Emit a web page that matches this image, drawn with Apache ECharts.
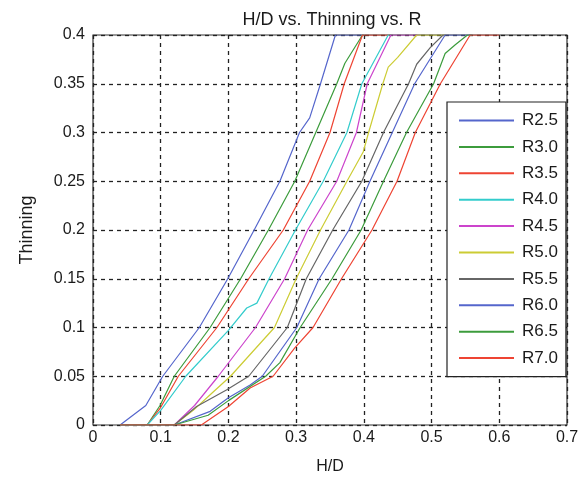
<!DOCTYPE html>
<html>
<head>
<meta charset="utf-8">
<script src="https://cdn.jsdelivr.net/npm/echarts@6/dist/echarts.min.js"></script>
<style>html,body{margin:0;padding:0;background:#fff;}#c{width:585px;height:477px;}</style>
</head>
<body>
<div id="c"></div>
<script>
const seriesNames = ['R2.5','R3.0','R3.5','R4.0','R4.5','R5.0','R5.5','R6.0','R6.5','R7.0'];
const seriesColors = ['#5566cc','#3c9c3c','#ee4433','#33cccc','#cc44cc','#cccc33','#666666','#5566cc','#3c9c3c','#ee4433'];
// [H/D, Thinning] pairs
const R25 = [[0.04,0],[0.078,0.02],[0.103,0.05],[0.157,0.1],[0.199,0.15],[0.238,0.2],[0.276,0.25],[0.305,0.3],[0.32,0.315],[0.336,0.35],[0.358,0.4],[0.40,0.4]];
const R30 = [[0.04,0],[0.08,0],[0.099,0.02],[0.12,0.05],[0.173,0.1],[0.218,0.15],[0.259,0.2],[0.298,0.25],[0.329,0.3],[0.36,0.35],[0.372,0.371],[0.398,0.4],[0.40,0.4]];
const R35 = [[0.04,0],[0.08,0],[0.099,0.017],[0.126,0.05],[0.183,0.1],[0.23,0.15],[0.281,0.2],[0.32,0.25],[0.35,0.3],[0.371,0.35],[0.398,0.4],[0.44,0.4]];
const R40 = [[0.04,0],[0.08,0],[0.10,0.015],[0.137,0.05],[0.2,0.097],[0.227,0.12],[0.242,0.125],[0.26,0.15],[0.299,0.2],[0.34,0.25],[0.375,0.3],[0.397,0.35],[0.436,0.4],[0.44,0.4]];
const R45 = [[0.04,0],[0.12,0],[0.15,0.02],[0.185,0.05],[0.24,0.1],[0.283,0.15],[0.317,0.2],[0.36,0.25],[0.389,0.3],[0.405,0.35],[0.44,0.4],[0.48,0.4]];
const R50 = [[0.04,0],[0.12,0],[0.148,0.015],[0.173,0.031],[0.203,0.05],[0.268,0.1],[0.3,0.15],[0.336,0.2],[0.375,0.25],[0.399,0.28],[0.407,0.3],[0.428,0.35],[0.436,0.367],[0.45,0.377],[0.478,0.4],[0.52,0.4]];
const R55 = [[0.04,0],[0.12,0],[0.153,0.019],[0.197,0.036],[0.23,0.05],[0.287,0.1],[0.315,0.15],[0.354,0.2],[0.397,0.25],[0.429,0.3],[0.466,0.35],[0.478,0.37],[0.498,0.387],[0.517,0.4],[0.52,0.4]];
const R60 = [[0.04,0],[0.12,0],[0.173,0.014],[0.2,0.028],[0.232,0.041],[0.25,0.05],[0.301,0.1],[0.334,0.15],[0.378,0.2],[0.409,0.25],[0.442,0.3],[0.475,0.35],[0.52,0.4],[0.56,0.4]];
const R65 = [[0.04,0],[0.12,0],[0.17,0.01],[0.2,0.025],[0.255,0.05],[0.276,0.064],[0.306,0.1],[0.353,0.15],[0.396,0.2],[0.429,0.25],[0.463,0.3],[0.503,0.35],[0.52,0.381],[0.535,0.39],[0.553,0.4],[0.56,0.4]];
const R70 = [[0.04,0],[0.16,0],[0.2,0.019],[0.232,0.038],[0.266,0.05],[0.298,0.079],[0.325,0.1],[0.367,0.15],[0.412,0.2],[0.449,0.25],[0.476,0.3],[0.513,0.35],[0.557,0.4],[0.6,0.4]];
const seriesData = [R25,R30,R35,R40,R45,R50,R55,R60,R65,R70];

const FONT = 'Liberation Sans, Arial, sans-serif';
const chart = echarts.init(document.getElementById('c'), null, {renderer:'canvas'});
const gridLine = {show:true, lineStyle:{color:'#222', type:[4,4], width:1.3}};
chart.setOption({
  animation:false,
  backgroundColor:'#fff',
  title:{text:'H/D vs. Thinning vs. R', left:327, top:6, textAlign:'center',
    textStyle:{fontFamily:FONT, fontSize:18, fontWeight:'normal', color:'#1a1a1a'}},
  grid:{left:93, right:18, top:35, bottom:52, show:true, borderColor:'#333', borderWidth:1.2,
    backgroundColor:'#fff', containLabel:false, outerBoundsMode:'none'},
  xAxis:{type:'value', min:0, max:0.7, interval:0.1,
    name:'H/D', nameLocation:'middle', nameGap:34,
    nameTextStyle:{fontFamily:FONT, fontSize:16, color:'#1a1a1a'},
    axisLine:{show:false}, axisTick:{show:false},
    axisLabel:{fontFamily:FONT, fontSize:16, color:'#1a1a1a', margin:5},
    splitLine:gridLine},
  yAxis:{type:'value', min:0, max:0.4, interval:0.05,
    name:'Thinning', nameLocation:'middle', nameGap:57,
    nameTextStyle:{fontFamily:FONT, fontSize:18, color:'#1a1a1a'},
    axisLine:{show:false}, axisTick:{show:false},
    axisLabel:{fontFamily:FONT, fontSize:16, color:'#1a1a1a', margin:8},
    splitLine:gridLine},
  legend:{orient:'vertical', left:447, top:102, width:120,
    backgroundColor:'#fff', borderColor:'#222', borderWidth:1.2,
    padding:[10,8,10,11], itemGap:9.4, itemWidth:55, itemHeight:14,
    itemStyle:{opacity:0},
    textStyle:{fontFamily:FONT, fontSize:17, color:'#1a1a1a', padding:[0,0,0,3]},
    data:seriesNames},
  series: seriesNames.map((n,i)=>({
    name:n, type:'line', data:seriesData[i], symbol:'none', showSymbol:false,
    lineStyle:{width:1.2, color:seriesColors[i]}, itemStyle:{color:seriesColors[i]},
    z:2+i
  }))
});
</script>
</body>
</html>
